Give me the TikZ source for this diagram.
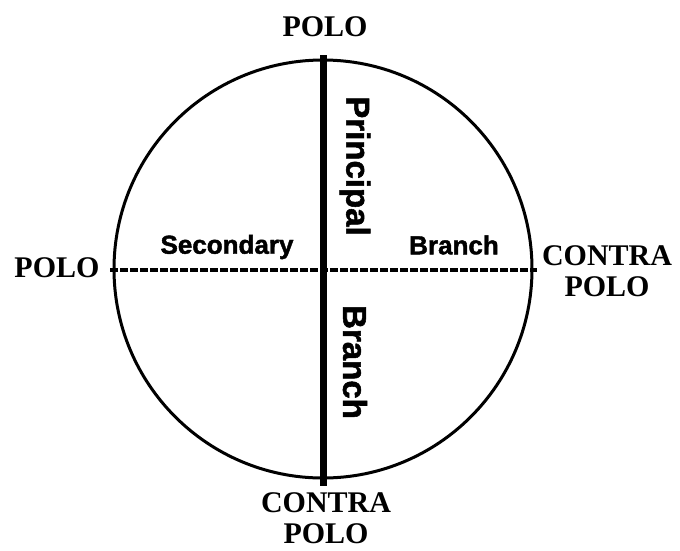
\documentclass[tikz,border=0pt]{standalone}
\usepackage{fontspec}
\setmainfont{Liberation Serif}
\newfontfamily\lsans{Liberation Sans}[FakeBold=1.6]
\begin{document}
\begin{tikzpicture}[x=1pt,y=-1pt,
  serifl/.style={font=\fontsize{30}{33}\selectfont\bfseries, align=center, inner sep=0pt},
  sansh/.style={font=\lsans\fontsize{26}{30}\selectfont\bfseries, inner sep=0pt},
  sansv/.style={font=\lsans\fontsize{33}{36}\selectfont\bfseries, inner sep=0pt, rotate=-90},
  ring/.style={circle, draw, line width=3pt, minimum size=418pt, inner sep=0pt}]
\useasboundingbox (0,0) rectangle (680,550);
\node[ring] (c) at (323,269) {};
\coordinate (vt) at (323,55);
\coordinate (vb) at (323,486);
\coordinate (hl) at (110,270);
\coordinate (hr) at (537,270);
\draw[line width=7pt] (vt) -- (vb);
\draw[line width=3.5pt, dash pattern=on 8pt off 2pt] (hl) -- (hr);
\node[serifl] (ptop) at (325,27) {POLO};
\node[serifl] (pleft) at (57,268) {POLO};
\node[serifl] (cright) at (607,271) {CONTRA\\[-2pt]POLO};
\node[serifl] (cbot) at (326,518) {CONTRA\\[-2pt]POLO};
\node[sansv] (princ) at (355,166) {Principal};
\node[sansv] (branchv) at (355,362) {Branch};
\node[sansh] (sec) at (227,247) {Secondary};
\node[sansh] (branchh) at (454,245) {Branch};
\end{tikzpicture}
\end{document}
